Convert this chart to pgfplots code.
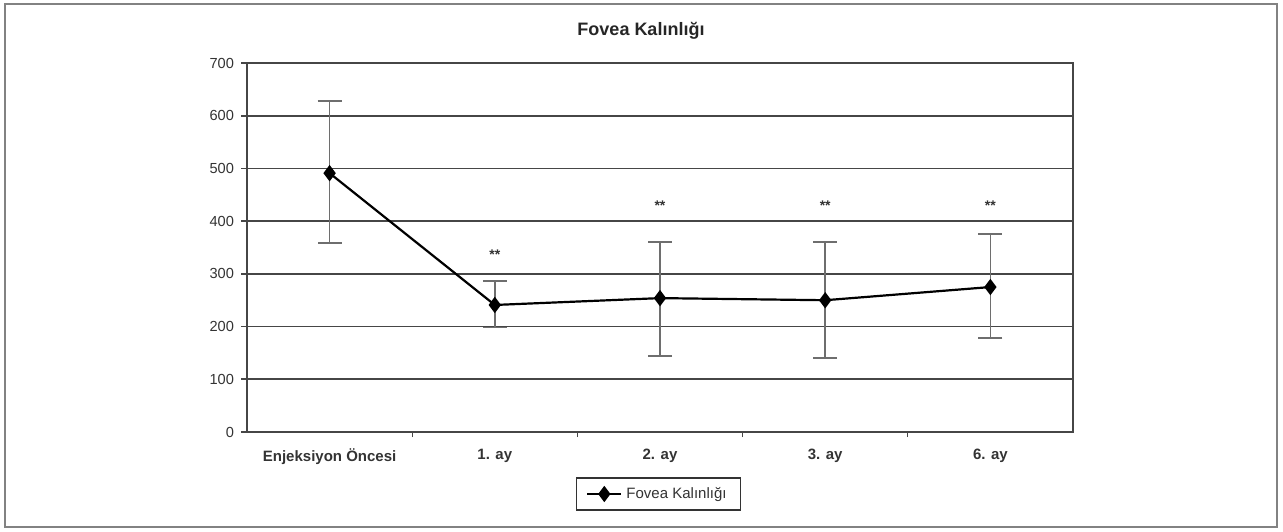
\documentclass[border=0pt]{standalone}
\usepackage{fontspec}
\setmainfont{Liberation Sans}
\usepackage{pgfplots}
\pgfplotsset{compat=1.18}
\definecolor{gridc}{RGB}{70,70,70}
\definecolor{errc}{RGB}{110,110,110}
\definecolor{framec}{RGB}{130,130,130}
\begin{document}
\begin{tikzpicture}
\begin{axis}[
  scale only axis,
  width=413pt, height=184.5pt,
  xmin=-0.5, xmax=4.5,
  ymin=0, ymax=700,
  ytick={0,100,...,700},
  xtick={0,1,2,3,4},
  xticklabels={Enjeksiyon Öncesi,1. ay,2. ay,3. ay,6. ay},
  minor xtick={0.5,1.5,2.5,3.5},
  major x tick style={draw=none},
  minor x tick style={gridc, line width=0.6pt},
  minor tick length=2.5pt,
  major tick length=3pt,
  tick align=outside,
  xtick pos=bottom, ytick pos=left,
  ymajorgrids,
  grid style={gridc, line width=0.9pt},
  axis line style={gridc, line width=0.9pt},
  tick style={gridc, line width=0.8pt},
  /pgf/number format/assume math mode=true,
  yticklabel style={font=\fontsize{7.3}{8}\selectfont, text=black!80},
  xticklabel style={font=\bfseries\fontsize{7.5}{9}\selectfont, text=black!80, yshift=-2pt},
  clip=false,
  legend style={at={(0.498,-0.168)}, anchor=center, draw=black!80, line width=0.6pt,
    font=\fontsize{7.5}{8}\selectfont, text=black!80, inner xsep=5pt, inner ysep=2.5pt},
  legend cell align=left,
]
\addplot[black, line width=1.1pt, mark=diamond*, mark size=3.2pt,
  mark options={solid, fill=black},
  error bars/.cd, y dir=both, y explicit,
  error bar style={errc, line width=0.8pt},
  error mark options={rotate=90, mark size=6pt, errc, line width=0.8pt}]
coordinates {
  (0,491) += (0,137) -= (0,133)
  (1,241) += (0,45) -= (0,43)
  (2,254) += (0,106) -= (0,110)
  (3,250) += (0,110) -= (0,110)
  (4,275) += (0,101) -= (0,97)
};
\addlegendentry{Fovea Kalınlığı}
\node[font=\bfseries\fontsize{7}{8}\selectfont, text=black!80] at (axis cs:1,336) {**};
\node[font=\bfseries\fontsize{7}{8}\selectfont, text=black!80] at (axis cs:2,430) {**};
\node[font=\bfseries\fontsize{7}{8}\selectfont, text=black!80] at (axis cs:3,430) {**};
\node[font=\bfseries\fontsize{7}{8}\selectfont, text=black!80] at (axis cs:4,430) {**};
\end{axis}
\node[font=\bfseries\fontsize{9}{10}\selectfont, text=black!85] at (197pt,200.5pt) {Fovea Kalınlığı};
\draw[framec, line width=1.2pt] (-121pt,-47.5pt) rectangle (515pt,214pt);
\pgfresetboundingbox
\useasboundingbox (-123.5pt,-49.5pt) rectangle (518pt,216pt);
\end{tikzpicture}
\end{document}
